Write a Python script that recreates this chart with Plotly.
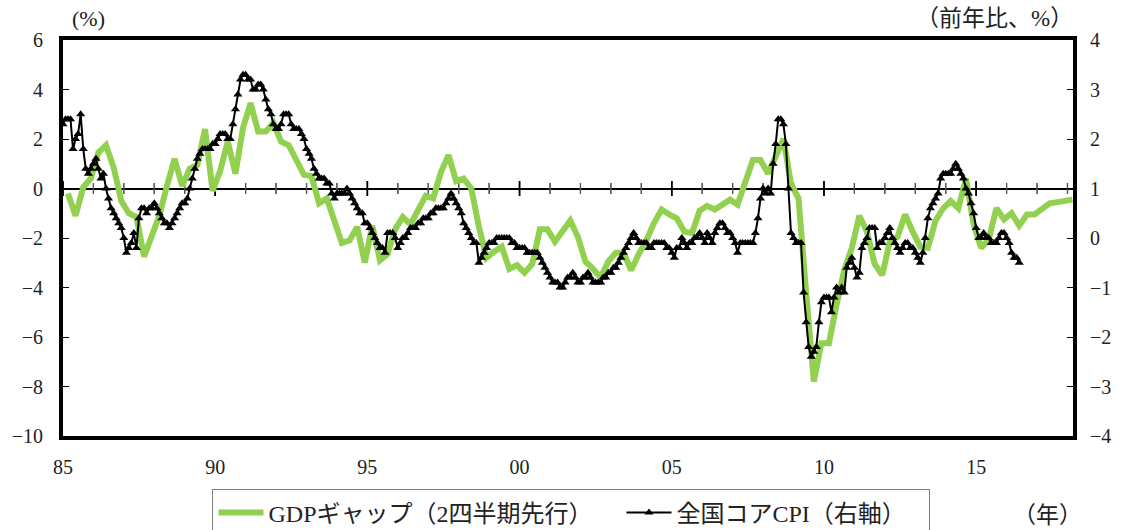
import plotly.graph_objects as go
import pandas as pd

# ---- data -------------------------------------------------------------
gdp_start = "1985-03-01"          # quarterly, plotted 2 quarters ahead
gdp_gap = [
    -0.2, -1.1, 0.05, 0.4, 1.45, 1.75, 0.85, -0.5, -1.0, -1.15,
    -2.75, -1.9, -1.1, 0.1, 1.2, 0.1, 0.8, 0.95, 2.4, -0.1,
    0.7, 1.9, 0.6, 2.45, 3.45, 2.3, 2.3, 2.65, 1.9, 1.75,
    1.2, 0.55, 0.5, -0.6, -0.4, -1.3, -2.2, -2.1, -1.55, -3.0,
    -1.5, -2.9, -2.65, -1.65, -1.15, -1.45, -0.9, -0.3, -0.4, 0.65,
    1.35, 0.3, 0.4, 0.0, -1.55, -2.8, -2.55, -2.35, -3.25, -3.1,
    -3.4, -3.05, -1.65, -1.65, -2.15, -1.7, -1.3, -1.95, -2.95, -3.25,
    -3.6, -2.95, -2.6, -2.6, -3.3, -2.65, -2.1, -1.4, -0.85, -1.05,
    -1.2, -1.75, -1.8, -0.9, -0.7, -0.85, -0.65, -0.45, -0.65, 0.35,
    1.15, 1.15, 0.6, 1.3, 2.0, 0.2, -0.4, -4.2, -7.8, -6.25,
    -6.25, -4.7, -3.3, -2.4, -1.1, -1.75, -3.05, -3.5, -2.15, -1.95,
    -1.05, -1.75, -2.35, -2.4, -1.3, -0.8, -0.5, -0.8, 0.4, -1.45,
    -2.4, -2.05, -0.8, -1.25, -1.0, -1.5, -1.05, -1.05, -0.8, -0.6,
    -0.55, -0.5, -0.45,
]

cpi_start = "1985-01-01"          # monthly, right axis
cpi_core = [
    2.3, 2.4, 2.4, 2.4, 1.8, 2.0, 2.1, 2.5, 1.8, 1.4, 1.3, 1.4,        # 1985
    1.5, 1.6, 1.4, 1.2, 1.3, 1.0, 0.8, 0.6, 0.5, 0.4, 0.3, 0.2,        # 1986
    0.0, -0.3, -0.2, -0.1, 0.1, -0.2, 0.4, 0.6, 0.6, 0.5, 0.6, 0.6,    # 1987
    0.7, 0.6, 0.5, 0.4, 0.3, 0.3, 0.2, 0.3, 0.4, 0.5, 0.6, 0.7,        # 1988
    0.7, 0.8, 1.0, 1.2, 1.4, 1.6, 1.7, 1.8, 1.8, 1.8, 1.8, 1.9,        # 1989
    1.9, 2.0, 2.1, 2.1, 2.1, 2.0, 2.0, 2.3, 2.6, 2.9, 3.2, 3.3,        # 1990
    3.3, 3.2, 3.2, 3.0, 3.0, 3.1, 3.1, 3.0, 2.8, 2.6, 2.5, 2.3,        # 1991
    2.2, 2.2, 2.3, 2.5, 2.5, 2.5, 2.3, 2.2, 2.2, 2.2, 2.1, 2.0,        # 1992
    1.8, 1.7, 1.6, 1.4, 1.3, 1.2, 1.2, 1.2, 1.1, 1.1, 0.9, 0.8,        # 1993
    0.9, 0.9, 0.9, 0.9, 1.0, 0.9, 0.8, 0.7, 0.6, 0.5, 0.5, 0.3,        # 1994
    0.3, 0.2, 0.1, 0.0, -0.1, -0.2, -0.2, -0.3, 0.1, 0.1, 0.1, 0.0,    # 1995
    -0.2, -0.1, 0.0, 0.0, 0.1, 0.2, 0.2, 0.2, 0.3, 0.3, 0.4, 0.4,      # 1996
    0.4, 0.5, 0.5, 0.6, 0.6, 0.6, 0.6, 0.7, 0.8, 0.9, 0.8, 0.7,        # 1997
    0.6, 0.5, 0.3, 0.2, 0.1, 0.0, -0.1, -0.1, -0.5, -0.4, -0.3, -0.2,  # 1998
    -0.1, -0.1, -0.1, 0.0, 0.0, 0.0, 0.0, 0.0, 0.0, -0.1, -0.1, -0.2,  # 1999
    -0.2, -0.2, -0.2, -0.3, -0.3, -0.3, -0.3, -0.3, -0.4, -0.5, -0.6, -0.7,  # 2000
    -0.8, -0.9, -0.9, -0.9, -1.0, -1.0, -0.9, -0.8, -0.8, -0.7, -0.8, -0.9,  # 2001
    -0.9, -0.8, -0.8, -0.7, -0.8, -0.9, -0.9, -0.9, -0.9, -0.8, -0.8, -0.7,  # 2002
    -0.7, -0.6, -0.6, -0.5, -0.4, -0.3, -0.2, -0.1, 0.0, 0.1, 0.0, -0.1,     # 2003
    -0.1, -0.1, -0.1, -0.2, -0.2, -0.1, -0.1, -0.1, -0.1, -0.1, -0.2, -0.2,  # 2004
    -0.3, -0.4, -0.2, -0.2, 0.0, -0.1, -0.2, -0.1, -0.1, 0.0, 0.0, 0.1,      # 2005
    0.0, -0.1, 0.1, 0.0, -0.1, 0.1, 0.2, 0.3, 0.3, 0.2, 0.1, 0.1,            # 2006
    0.0, -0.1, -0.3, -0.1, -0.1, -0.1, -0.1, -0.1, -0.1, 0.1, 0.4, 0.8,      # 2007
    1.0, 0.9, 1.0, 0.9, 1.5, 1.9, 2.4, 2.4, 2.3, 1.9, 1.0, 0.1,              # 2008
    0.0, -0.1, -0.1, -0.1, -1.1, -1.7, -2.2, -2.4, -2.3, -2.2, -1.7, -1.3,   # 2009
    -1.2, -1.2, -1.2, -1.5, -1.2, -1.0, -1.1, -1.0, -1.1, -0.6, -0.5, -0.4,  # 2010
    -0.6, -0.8, -0.7, -0.2, -0.1, 0.0, 0.2, 0.2, 0.2, -0.2, -0.1, -0.1,      # 2011
    0.0, 0.1, 0.2, 0.0, -0.1, -0.2, -0.3, -0.2, -0.1, -0.1, -0.2, -0.2,      # 2012
    -0.3, -0.4, -0.5, -0.3, 0.0, 0.4, 0.6, 0.7, 0.8, 0.9, 1.2, 1.3,          # 2013
    1.3, 1.3, 1.3, 1.4, 1.5, 1.4, 1.3, 1.2, 1.0, 0.9, 0.7, 0.5,              # 2014
    0.2, 0.0, 0.0, 0.1, 0.0, 0.0, -0.1, -0.1, -0.1, 0.0, 0.1, 0.1,           # 2015
    0.0, -0.1, -0.3, -0.4, -0.4, -0.5,                                       # 2016
]

x_tick_years = [1985, 1990, 1995, 2000, 2005, 2010, 2015]
x_tick_text = ["85", "90", "95", "00", "05", "10", "15"]
x_minor_years = list(range(1985, 2019))
x_range = ["1985-01-01", "2018-03-08"]

gdp_name = "GDPギャップ（2四半期先行）\u3000\u00a0\u00a0"
cpi_name = "全国コアCPI（右軸）\u00a0\u00a0\u00a0"

# ---- figure -----------------------------------------------------------
gdp_dates = pd.date_range(gdp_start, periods=len(gdp_gap), freq="3MS")
cpi_dates = pd.date_range(cpi_start, periods=len(cpi_core), freq="MS")
tick_dates = [f"{y}-01-01" for y in x_tick_years]
minor_dates = [f"{y}-01-01" for y in x_minor_years if y not in x_tick_years]

FONT = "Liberation Serif, Noto Sans CJK JP, serif"
TXT = "#222222"

fig = go.Figure()

# cross-type year tick marks on the zero line (Excel style), drawn as error bars
# centred on y = 0 (half-length in left-axis units) plus a vertical-line marker
for dates, half, col, wid in ((minor_dates, 0.22, "#555555", 1.2),
                              (tick_dates, 0.30, "black", 1.5)):
    fig.add_trace(go.Scatter(
        x=dates, y=[0] * len(dates), mode="markers", xaxis="x", yaxis="y",
        marker=dict(symbol="line-ns-open", size=half * 24.75 * 2 / 1.4,
                    color=col, line=dict(width=wid, color=col)),
        error_y=dict(type="constant", value=half, symmetric=True,
                     width=0, thickness=wid, color=col),
        showlegend=False, hoverinfo="skip", cliponaxis=False))

fig.add_trace(go.Scatter(
    x=gdp_dates, y=gdp_gap, mode="lines", name=gdp_name,
    line=dict(color="#92D050", width=6), xaxis="x", yaxis="y"))
fig.add_trace(go.Scatter(
    x=cpi_dates, y=cpi_core, mode="lines+markers", name=cpi_name,
    line=dict(color="black", width=2),
    marker=dict(symbol="triangle-up", size=8, color="black"),
    xaxis="x", yaxis="y2"))

fig.update_layout(
    width=1125, height=530,
    margin=dict(l=63, r=52, t=40, b=94, autoexpand=False),
    paper_bgcolor="white", plot_bgcolor="white",
    font=dict(family=FONT, size=20, color=TXT),
    showlegend=True,
    legend=dict(orientation="h", x=0.148, y=-0.135, xanchor="left", yanchor="top",
                bordercolor="#808080", borderwidth=1, bgcolor="white",
                font=dict(family=FONT, size=24, color=TXT), itemwidth=45),
    xaxis=dict(type="date", range=x_range, showline=True, linewidth=4,
               linecolor="black", mirror=True, showgrid=False, zeroline=False,
               automargin=False, tickmode="array", tickvals=tick_dates,
               ticktext=x_tick_text, ticks="", ticklabelstandoff=10),
    yaxis=dict(range=[-10, 6], dtick=2, tick0=0, showline=True, linewidth=4,
               linecolor="black", mirror=True, showgrid=False, automargin=False,
               zeroline=True, zerolinecolor="black", zerolinewidth=1.5,
               ticks="inside", ticklen=6, tickcolor="black",
               ticklabelstandoff=12),
    yaxis2=dict(range=[-4, 4], dtick=1, tick0=0, overlaying="y", side="right",
                showline=False, showgrid=False, zeroline=False, automargin=False,
                ticks="inside", ticklen=6, tickcolor="black",
                ticklabelstandoff=16),
    annotations=[
        dict(text="(%)", xref="paper", yref="paper", x=0.025, y=1.055,
             xanchor="center", yanchor="middle", showarrow=False,
             font=dict(family=FONT, size=22, color=TXT)),
        dict(text="（前年比、%）", xref="paper", yref="paper", x=0.922, y=1.055,
             xanchor="center", yanchor="middle", showarrow=False,
             font=dict(family=FONT, size=23, color=TXT)),
        dict(text="（年）", xref="paper", yref="paper", x=0.975, y=-0.2,
             xanchor="center", yanchor="middle", showarrow=False,
             font=dict(family=FONT, size=23, color=TXT)),
    ],
)

fig.write_html("out.html", config={"displayModeBar": False},
               post_script="document.body.style.margin='0';"
                           "document.body.style.overflow='hidden';")
